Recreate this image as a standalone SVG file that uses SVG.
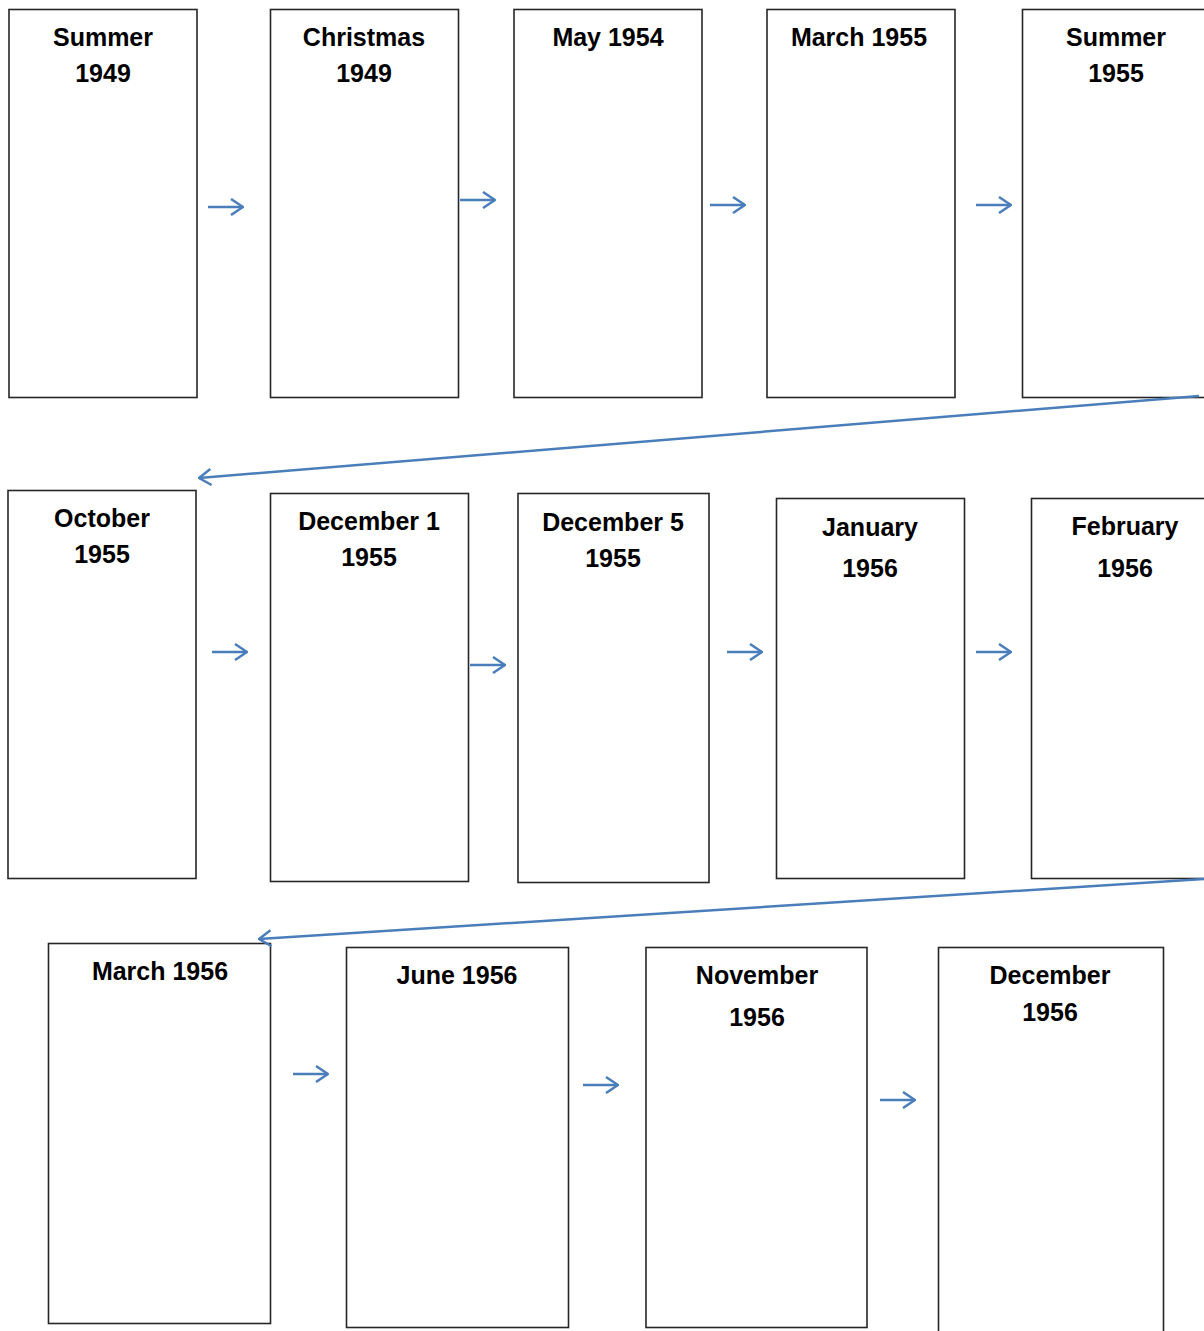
<svg xmlns="http://www.w3.org/2000/svg" width="1204" height="1331" viewBox="0 0 1204 1331">
<style>
.box{fill:#fff;stroke:#262626;stroke-width:1.6}
.t{font-family:"Liberation Sans",Arial,sans-serif;font-weight:bold;font-size:25px;fill:#000;text-anchor:middle}
.c{stroke:#4a7ebb;stroke-width:2.5;fill:none}
</style>
<defs>
<marker id="ah" viewBox="0 0 14 18" refX="13" refY="9" markerWidth="14" markerHeight="18" markerUnits="userSpaceOnUse" orient="auto">
<path d="M1,1 L13,9 L1,17" fill="none" stroke="#4a7ebb" stroke-width="2.5"/>
</marker>
</defs>
<rect width="1204" height="1331" fill="#fff"/>
<g id="n1"><rect class="box" x="9" y="9.5" width="188" height="388"/><text class="t" x="103" y="46">Summer</text><text class="t" x="103" y="82">1949</text></g>
<g id="n2"><rect class="box" x="270.5" y="9.5" width="188" height="388"/><text class="t" x="364" y="46">Christmas</text><text class="t" x="364" y="82">1949</text></g>
<g id="n3"><rect class="box" x="514" y="9.5" width="188" height="388"/><text class="t" x="608" y="46">May 1954</text></g>
<g id="n4"><rect class="box" x="767" y="9.5" width="188" height="388"/><text class="t" x="859" y="46">March 1955</text></g>
<g id="n5"><rect class="box" x="1022.5" y="9.5" width="195" height="388"/><text class="t" x="1116" y="46">Summer</text><text class="t" x="1116" y="82">1955</text></g>
<g id="n6"><rect class="box" x="8" y="490.5" width="188" height="388"/><text class="t" x="102" y="527">October</text><text class="t" x="102" y="563">1955</text></g>
<g id="n7"><rect class="box" x="270.5" y="493.5" width="198" height="388"/><text class="t" x="369" y="530">December 1</text><text class="t" x="369" y="566">1955</text></g>
<g id="n8"><rect class="box" x="518" y="493.5" width="191" height="389"/><text class="t" x="613" y="531">December 5</text><text class="t" x="613" y="567">1955</text></g>
<g id="n9"><rect class="box" x="776.5" y="498.5" width="188" height="380"/><text class="t" x="870" y="536">January</text><text class="t" x="870" y="577">1956</text></g>
<g id="n10"><rect class="box" x="1031.5" y="498.5" width="190" height="380"/><text class="t" x="1125" y="535">February</text><text class="t" x="1125" y="577">1956</text></g>
<g id="n11"><rect class="box" x="48.5" y="943.5" width="222" height="380"/><text class="t" x="160" y="980">March 1956</text></g>
<g id="n12"><rect class="box" x="346.5" y="947.5" width="222" height="380"/><text class="t" x="457" y="984">June 1956</text></g>
<g id="n13"><rect class="box" x="646" y="947.5" width="221" height="380"/><text class="t" x="757" y="984">November</text><text class="t" x="757" y="1026">1956</text></g>
<g id="n14"><rect class="box" x="938.5" y="947.5" width="225" height="400"/><text class="t" x="1050" y="984">December</text><text class="t" x="1050" y="1021">1956</text></g>
<g id="connectors">
<line class="c" x1="208" y1="207" x2="243" y2="207" marker-end="url(#ah)"/>
<line class="c" x1="460" y1="200" x2="495" y2="200" marker-end="url(#ah)"/>
<line class="c" x1="710" y1="205" x2="745" y2="205" marker-end="url(#ah)"/>
<line class="c" x1="976" y1="205" x2="1011" y2="205" marker-end="url(#ah)"/>
<line class="c" x1="1199" y1="396" x2="199" y2="478" marker-end="url(#ah)"/>
<line class="c" x1="212" y1="652" x2="247" y2="652" marker-end="url(#ah)"/>
<line class="c" x1="470" y1="665" x2="505" y2="665" marker-end="url(#ah)"/>
<line class="c" x1="727" y1="652" x2="762" y2="652" marker-end="url(#ah)"/>
<line class="c" x1="976" y1="652" x2="1011" y2="652" marker-end="url(#ah)"/>
<line class="c" x1="1204" y1="879" x2="259" y2="939" marker-end="url(#ah)"/>
<line class="c" x1="293" y1="1074" x2="328" y2="1074" marker-end="url(#ah)"/>
<line class="c" x1="583" y1="1085" x2="618" y2="1085" marker-end="url(#ah)"/>
<line class="c" x1="880" y1="1100" x2="915" y2="1100" marker-end="url(#ah)"/>
</g>
</svg>
